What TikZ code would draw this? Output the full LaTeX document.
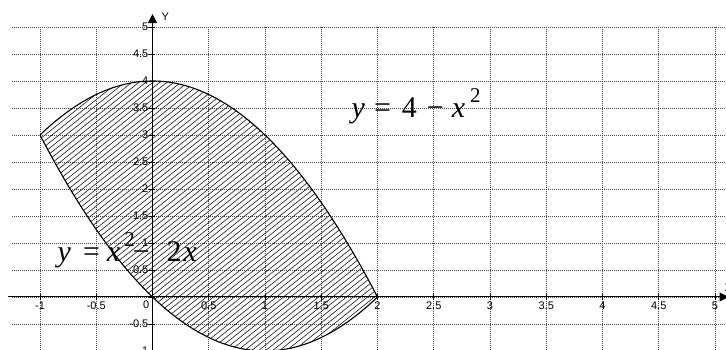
\documentclass[tikz,border=0pt]{standalone}
\usepackage{fontspec}
\setmainfont{Liberation Serif}
\newfontfamily\lsans{Liberation Sans}
\usetikzlibrary{arrows.meta}
\newcommand{\supii}{\raisebox{0.52em}{\fontsize{21}{21}\selectfont 2}}
\begin{document}
\begin{tikzpicture}[x=112.5pt,y=54pt,
 gridline/.style={black!70,line width=0.6pt,dash pattern=on 1pt off 1pt},
 axisline/.style={black,line width=1pt,-{Triangle[length=9pt,width=9pt]}},
 curveline/.style={black,line width=1.1pt},
 hatchline/.style={black!85,line width=0.65pt},
 tickmark/.style={black,line width=0.8pt},
 ticklab/.style={font=\lsans\fontsize{11}{11}\selectfont,inner sep=0pt},
 formula/.style={font=\fontsize{30}{30}\selectfont,inner sep=0pt}]
\useasboundingbox (-152.5pt,-53pt) rectangle (573.5pt,297pt);
% grid
\foreach \k in {-2,...,10} \draw[gridline] (-1.25,\k/2) -- (5.2,\k/2);
\foreach \k in {-2,...,10} \draw[gridline] (\k/2,-1.1) -- (\k/2,5);
% hatching
\begin{scope}
\clip plot[domain=-1:2,samples=80] (\x,{4-\x*\x}) -- plot[domain=2:-1,samples=80] (\x,{\x*\x-2*\x}) -- cycle;
\foreach \i in {-420,-413,...,240} \draw[hatchline] (\i pt,-60pt) -- ++(350pt,280pt);
\end{scope}
% boundary curves
\draw[curveline] plot[domain=-1:2,samples=80] (\x,{4-\x*\x});
\draw[curveline] plot[domain=-1:2,samples=80] (\x,{\x*\x-2*\x});
% axes
\coordinate (xs) at (-1.28,0);
\coordinate (xe) at (5.12,0);
\coordinate (ys) at (0,-1.1);
\coordinate (ye) at (0,5.24);
\draw[axisline] (xs) -- (xe);
\draw[axisline] (ys) -- (ye);
\node[ticklab,anchor=west] (ylab) at (9pt,280pt) {Y};
\node[ticklab,anchor=west] (xlab) at (572pt,9pt) {X};
% ticks
\foreach \k in {-2,...,10} {
  \draw[tickmark] (\k/2,-3pt) -- (\k/2,3pt);
  \draw[tickmark] (-3pt,\k/2) -- (3pt,\k/2);
}
% x tick labels
\foreach \v/\t [count=\n] in {-1/-1,-0.5/-0.5,0.5/0.5,1/1,1.5/1.5,2/2,2.5/2.5,3/3,3.5/3.5,4/4,4.5/4.5,5/5}
  \node[ticklab,anchor=north] (xt\n) at ([yshift=-5pt]\v,0) {\t};
\node[ticklab,anchor=north east] (xt0) at (-3pt,-4pt) {0};
% y tick labels
\foreach \v/\t [count=\n] in {-1/-1,-0.5/-0.5,0.5/0.5,1/1,1.5/1.5,2/2,2.5/2.5,3/3,3.5/3.5,4/4,4.5/4.5,5/5}
  \node[ticklab,anchor=east] (yt\n) at ([xshift=-4pt]0,\v) {\t};
% formulas
\node[formula,anchor=base west] (f1) at (199pt,179pt)
  {\textit{y}\hspace{9pt}=\hspace{11pt}4\hspace{10pt}−\hspace{8pt}\textit{x}\hspace{5pt}\supii};
\node[formula,anchor=base west] (f2) at (-95pt,35pt)
  {\textit{y}\hspace{12pt}=\hspace{7pt}\textit{x}\hspace{4pt}\supii\hspace{-2pt}−\hspace{17pt}2\hspace{2pt}\textit{x}};
\end{tikzpicture}
\end{document}
